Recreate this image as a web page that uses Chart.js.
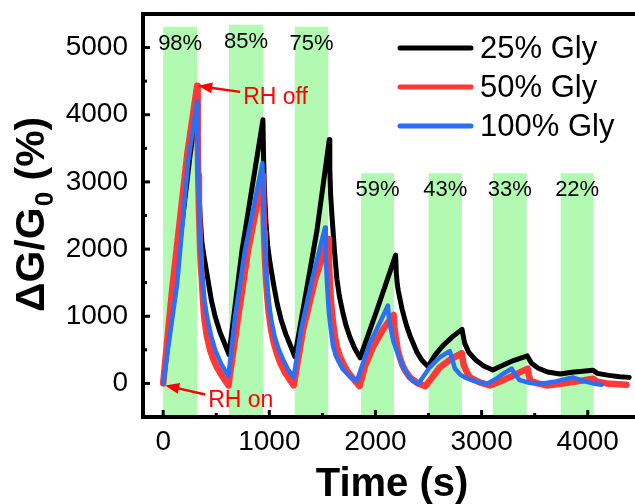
<!DOCTYPE html>
<html>
<head>
<meta charset="utf-8">
<script src="https://cdn.jsdelivr.net/npm/chart.js@4.4.0/dist/chart.umd.min.js"></script>
<style>
  html, body { margin: 0; padding: 0; background: #fff; }
  #wrap { width: 635px; height: 504px; }
</style>
</head>
<body>
<div id="wrap"><canvas id="chart" width="635" height="504"></canvas></div>
<script>
/** 1. DATA: [time s, dG/G0 %] **/
const seriesNames = ['25% Gly', '50% Gly', '100% Gly'];

const gly25 = [[0, 0], [254, 3400], [320, 4150], [326, 3500], [335, 2950], [348, 2500], [365, 2100], [386, 1880],
  [405, 1700], [423, 1530], [455, 1230], [489, 1000], [536, 760], [580, 590], [620, 430],
  [743, 1985], [940, 3925], [946, 3350], [955, 2850], [968, 2400], [985, 2050], [1006, 1800], [1025, 1620],
  [1043, 1450], [1075, 1180], [1109, 960], [1156, 730], [1200, 560], [1240, 400],
  [1449, 2280], [1565, 3630], [1570, 3200], [1578, 2800], [1590, 2500], [1600, 2280], [1615, 1950], [1637, 1550],
  [1660, 1300], [1693, 1050], [1725, 850], [1759, 690], [1805, 520], [1855, 380],
  [2013, 1090], [2190, 1910], [2196, 1650], [2205, 1480], [2215, 1380], [2229, 1270], [2250, 1110], [2275, 960],
  [2295, 850], [2330, 690], [2389, 470], [2440, 340], [2495, 250],
  [2560, 420], [2640, 570], [2730, 700], [2815, 805], [2840, 600], [2880, 460], [2950, 340], [3020, 260], [3105, 200],
  [3200, 270], [3300, 340], [3430, 410], [3470, 300], [3530, 230], [3620, 170], [3740, 140],
  [3850, 165], [3950, 180], [4050, 195], [4090, 150], [4200, 120], [4300, 100], [4390, 90]];

const gly50 = [[0, 0], [85, 1400], [226, 3400], [320, 4430], [325, 3700], [330, 3100], [337, 2600], [348, 2000],
  [357, 1700], [367, 1480], [376, 1220], [386, 1000], [410, 720], [442, 500], [475, 350], [508, 235], [560, 100], [615, -30],
  [706, 985], [800, 1985], [940, 3100], [945, 2600], [950, 2250], [958, 1900], [967, 1600], [980, 1300], [995, 1050],
  [1015, 820], [1040, 620], [1070, 450], [1105, 300], [1150, 160], [1190, 60], [1230, -30],
  [1317, 790], [1430, 1540], [1555, 2150], [1562, 1800], [1570, 1500], [1580, 1250], [1590, 1050], [1605, 850],
  [1620, 680], [1637, 540], [1665, 400], [1700, 280], [1731, 190], [1790, 70], [1850, -40],
  [1900, 250], [1976, 540], [2070, 800], [2170, 1020], [2178, 850], [2190, 700], [2210, 500], [2229, 390],
  [2255, 270], [2280, 190], [2324, 90], [2400, 0], [2470, -40],
  [2540, 100], [2606, 240], [2700, 350], [2813, 450], [2830, 280], [2860, 170], [2888, 90], [2982, 15], [3076, -30],
  [3198, 45], [3300, 120], [3434, 220], [3445, 120], [3460, 40], [3530, 0], [3612, -30], [3763, 0], [3900, 30],
  [4050, 70], [4080, 30], [4177, 0], [4365, -20]];

const gly100 = [[0, 0], [132, 1490], [235, 3300], [320, 4200], [325, 3600], [332, 3000], [341, 2500], [350, 2120],
  [361, 1800], [372, 1520], [390, 1230], [414, 985], [450, 720], [489, 500], [550, 280], [615, 110],
  [677, 985], [771, 1985], [935, 3280], [941, 2800], [948, 2400], [957, 2050], [967, 1750], [980, 1450], [997, 1180],
  [1020, 930], [1050, 700], [1085, 520], [1125, 370], [1175, 210], [1230, 90],
  [1298, 790], [1402, 1540], [1525, 2320], [1532, 1900], [1540, 1600], [1550, 1320], [1562, 1050], [1578, 820],
  [1600, 560], [1625, 420], [1655, 320], [1693, 210], [1760, 100], [1825, 40],
  [1947, 600], [2040, 900], [2117, 1160], [2125, 1000], [2140, 850], [2170, 620], [2200, 490], [2250, 280],
  [2295, 150], [2350, 40], [2400, -10],
  [2450, 100], [2512, 240], [2606, 390], [2700, 480], [2725, 350], [2747, 225], [2800, 130], [2841, 90], [2920, 40],
  [2982, 15], [3057, 0], [3142, 75], [3200, 140], [3283, 220], [3310, 150], [3358, 50], [3450, 10], [3547, -10],
  [3700, 30], [3857, 90], [3950, 40], [4050, 0], [4130, -20]];

// humidity pulses (green bands)
const bandStart = [0, 620, 1240, 1865, 2500, 3105, 3745];
const bandEnd = [320, 940, 1555, 2175, 2815, 3425, 4055];
const bandTop = [5310, 5340, 5310, 3130, 3130, 3130, 3130];
const bandLabels = ['98%', '85%', '75%', '59%', '43%', '33%', '22%'];

const xTicks = [0, 1000, 2000, 3000, 4000];
const yTicks = [0, 1000, 2000, 3000, 4000, 5000];
const xMinor = [500, 1500, 2500, 3500];
const yMinor = [500, 1500, 2500, 3500, 4500];

/** 2. STYLE **/
const FONT = 'Arial, "Liberation Sans", sans-serif';
const colors = ['#000000', '#ff3838', '#2c6ff2'];
const widths = [5, 6.5, 4.5];

const pts = arr => arr.map(([t, g]) => ({ x: t, y: g }));

/** 3. PLUGINS **/
const bandsPlugin = {
  id: 'bands',
  beforeDatasetsDraw(chart) {
    const { ctx, chartArea: a, scales: { x, y } } = chart;
    ctx.save();
    bandStart.forEach((s, i) => {
      const x0 = x.getPixelForValue(s), x1 = x.getPixelForValue(bandEnd[i]);
      const yt = y.getPixelForValue(bandTop[i]);
      ctx.fillStyle = 'rgb(178,250,178)';
      ctx.fillRect(x0, yt, x1 - x0, a.bottom - yt);
      ctx.fillStyle = '#000';
      ctx.font = '22px ' + FONT;
      ctx.textAlign = 'center';
      ctx.textBaseline = 'middle';
      ctx.fillText(bandLabels[i], (x0 + x1) / 2, yt + 17);
    });
    ctx.restore();
  }
};

function arrow(ctx, fx, fy, tx, ty) {
  const ang = Math.atan2(ty - fy, tx - fx);
  ctx.beginPath();
  ctx.moveTo(fx, fy);
  ctx.lineTo(tx - 9 * Math.cos(ang), ty - 9 * Math.sin(ang));
  ctx.stroke();
  ctx.beginPath();
  ctx.moveTo(tx, ty);
  ctx.lineTo(tx - 14 * Math.cos(ang) + 5.5 * Math.sin(ang), ty - 14 * Math.sin(ang) - 5.5 * Math.cos(ang));
  ctx.lineTo(tx - 14 * Math.cos(ang) - 5.5 * Math.sin(ang), ty - 14 * Math.sin(ang) + 5.5 * Math.cos(ang));
  ctx.closePath();
  ctx.fill();
}

const framePlugin = {
  id: 'frame',
  afterDraw(chart) {
    const { ctx, chartArea: a, scales: { x, y } } = chart;
    ctx.save();
    ctx.strokeStyle = '#000';
    ctx.lineWidth = 4;
    ctx.beginPath();
    ctx.moveTo(a.right + 5, a.top);
    ctx.lineTo(a.left, a.top);
    ctx.lineTo(a.left, a.bottom);
    ctx.lineTo(a.right + 5, a.bottom);
    ctx.stroke();

    // inward ticks
    ctx.lineWidth = 3;
    const tick = (x0, y0, x1, y1) => { ctx.beginPath(); ctx.moveTo(x0, y0); ctx.lineTo(x1, y1); ctx.stroke(); };
    xTicks.forEach(v => { const p = x.getPixelForValue(v); tick(p, a.bottom, p, a.bottom - 7); });
    xMinor.forEach(v => { const p = x.getPixelForValue(v); tick(p, a.bottom, p, a.bottom - 4); });
    yTicks.forEach(v => { const p = y.getPixelForValue(v); tick(a.left, p, a.left + 7, p); });
    yMinor.forEach(v => { const p = y.getPixelForValue(v); tick(a.left, p, a.left + 4, p); });

    // RH on / RH off notes, anchored on the 50% Gly points
    ctx.strokeStyle = '#ff0000';
    ctx.fillStyle = '#ff0000';
    ctx.lineWidth = 2.5;
    const offX = x.getPixelForValue(gly50[3][0]), offY = y.getPixelForValue(gly50[3][1]);
    arrow(ctx, offX + 43, offY + 6, offX + 1, offY);
    const onX = x.getPixelForValue(gly50[0][0]), onY = y.getPixelForValue(gly50[0][1]);
    arrow(ctx, onX + 42, onY + 11, onX + 2, onY + 2);
    ctx.font = '23px ' + FONT;
    ctx.textAlign = 'left';
    ctx.textBaseline = 'alphabetic';
    ctx.fillText('RH off', offX + 46, offY + 18);
    ctx.fillText('RH on', onX + 45, onY + 24);

    // legend
    ctx.textBaseline = 'middle';
    ctx.font = '31px ' + FONT;
    seriesNames.forEach((n, i) => {
      const ly = 48 + i * 39;
      ctx.strokeStyle = colors[i];
      ctx.lineWidth = 5;
      ctx.lineCap = 'round';
      ctx.beginPath(); ctx.moveTo(400, ly); ctx.lineTo(471, ly); ctx.stroke();
      ctx.fillStyle = '#000';
      ctx.fillText(n, 480, ly + 1);
    });

    // axis titles
    ctx.fillStyle = '#000';
    ctx.font = 'bold 40px ' + FONT;
    ctx.textAlign = 'center';
    ctx.textBaseline = 'alphabetic';
    ctx.fillText('Time (s)', (a.left + a.right) / 2 + 3, 496);

    ctx.translate(44, 312);
    ctx.rotate(-Math.PI / 2);
    ctx.textAlign = 'left';
    ctx.font = 'bold 41px ' + FONT;
    const p1 = '\u0394G/G';
    ctx.fillText(p1, 0, 0);
    let w = ctx.measureText(p1).width;
    ctx.font = 'bold 26px ' + FONT;
    ctx.fillText('0', w + 1, 9);
    w += ctx.measureText('0').width + 1;
    ctx.font = 'bold 41px ' + FONT;
    ctx.fillText(' (%)', w, 0);
    ctx.restore();
  }
};

/** 4. CHART **/
const tickFont = { family: FONT, size: 28, lineHeight: 1 };

new Chart(document.getElementById('chart'), {
  type: 'line',
  data: {
    datasets: [
      { label: seriesNames[0], data: pts(gly25), borderColor: colors[0], borderWidth: widths[0], order: 3 },
      { label: seriesNames[1], data: pts(gly50), borderColor: colors[1], borderWidth: widths[1], order: 2 },
      { label: seriesNames[2], data: pts(gly100), borderColor: colors[2], borderWidth: widths[2], order: 1 }
    ]
  },
  options: {
    responsive: false,
    animation: false,
    layout: { padding: { top: 14, right: 0, left: 0, bottom: 0 } },
    elements: {
      point: { radius: 0 },
      line: { tension: 0, borderJoinStyle: 'round', borderCapStyle: 'round', fill: false }
    },
    plugins: { legend: { display: false }, tooltip: { enabled: false } },
    scales: {
      x: {
        type: 'linear', min: -190, max: 4445,
        afterBuildTicks: s => { s.ticks = xTicks.map(v => ({ value: v })); },
        afterFit: s => { s.height = 87; s.paddingLeft = 0; s.paddingRight = 0; },
        grid: { display: false, drawTicks: false },
        border: { display: false },
        ticks: { font: tickFont, color: '#000', padding: 11, maxRotation: 0, autoSkip: false, callback: v => String(v) }
      },
      y: {
        type: 'linear', min: -500, max: 5500,
        afterBuildTicks: s => { s.ticks = yTicks.map(v => ({ value: v })); },
        afterFit: s => { s.width = 143; s.paddingTop = 0; s.paddingBottom = 0; },
        grid: { display: false, drawTicks: false },
        border: { display: false },
        ticks: { font: tickFont, color: '#000', padding: 15, callback: v => String(v) }
      }
    }
  },
  plugins: [bandsPlugin, framePlugin]
});
</script>
</body>
</html>
